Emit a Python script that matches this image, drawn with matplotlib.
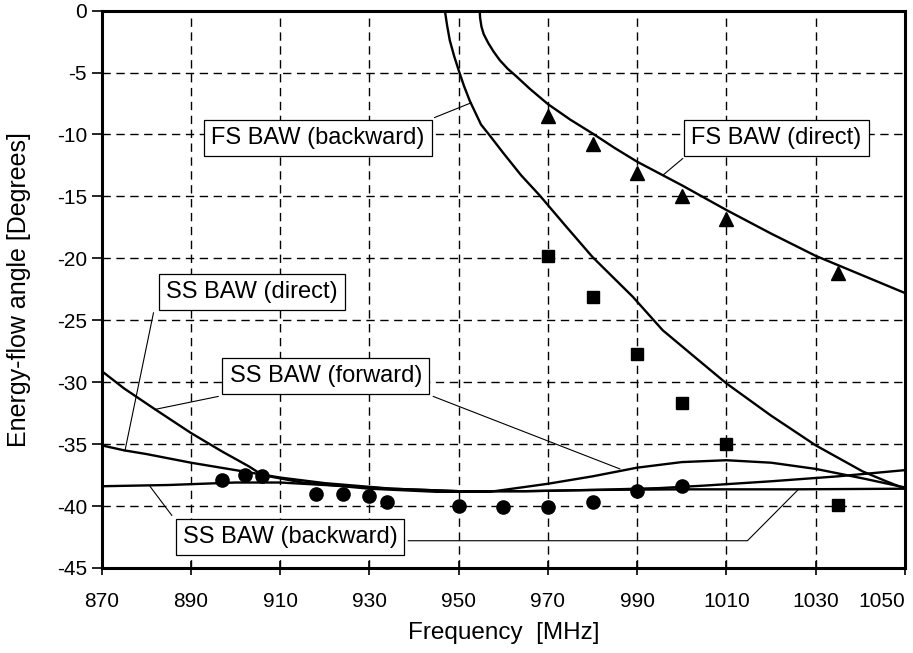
import matplotlib
matplotlib.use("Agg")
from matplotlib import pyplot as plt

plt.rcParams['font.family'] = ['Liberation Sans', 'DejaVu Sans']
plt.rcParams['axes.unicode_minus'] = False

# measured points
circ_f = [897, 902, 906, 918, 924, 930, 934, 950, 960, 970, 980, 990, 1000]
circ_a = [-37.9, -37.5, -37.6, -39.0, -39.05, -39.2, -39.7, -40.0, -40.05, -40.07, -39.7, -38.8, -38.4]

sq_f = [970, 980, 990, 1000, 1010, 1035]
sq_a = [-19.8, -23.1, -27.7, -31.7, -35.0, -39.9]

tri_f = [970, 980, 990, 1000, 1010, 1035]
tri_a = [-8.5, -10.8, -13.1, -15.0, -16.8, -21.15]

# calculated curves
fsd_f = [954.7, 954.8, 955.1, 955.6, 956.6, 957.8, 959.2, 961, 962.9, 965.9, 970, 975, 980, 985, 990, 1000, 1010, 1020, 1030, 1040, 1050]
fsd_a = [0, -0.6, -1.3, -1.9, -2.6, -3.3, -4.0, -4.7, -5.3, -6.3, -7.55, -8.8, -9.92, -11.1, -12.2, -14.1, -16.1, -18.0, -19.8, -21.3, -22.8]

fsb_f = [946.9, 947.4, 948.0, 949.0, 950.1, 951.2, 952.5, 955, 957, 960, 964, 968.1, 974, 980, 989, 995.7, 1003, 1010, 1020, 1030, 1040.5, 1045.8, 1050]
fsb_a = [0, -1.2, -2.4, -3.7, -4.93, -6.1, -7.3, -9.2, -10.1, -11.5, -13.3, -14.9, -17.4, -19.9, -23.1, -25.8, -28.0, -30.1, -32.7, -35.1, -37.2, -38.0, -38.6]

ssd_f = [870, 875, 880, 890, 900, 910, 920, 935, 950, 965, 980, 995, 1005, 1020, 1035, 1050]
ssd_a = [-35.1, -35.5, -35.8, -36.5, -37.1, -37.7, -38.15, -38.6, -38.8, -38.8, -38.7, -38.55, -38.35, -38.0, -37.6, -37.1]

ssf_f = [870, 875, 882, 890, 897, 903, 906, 915, 930, 945, 957, 970, 980, 990, 1000, 1010, 1020, 1030, 1041, 1050]
ssf_a = [-29.1, -30.5, -32.2, -34.1, -35.6, -36.8, -37.5, -38.1, -38.6, -38.85, -38.85, -38.2, -37.6, -36.9, -36.45, -36.3, -36.5, -37.0, -37.8, -38.5]

ssb_f = [870, 885, 900, 910, 920, 935, 950, 965, 980, 1000, 1025, 1050]
ssb_a = [-38.4, -38.3, -38.1, -38.1, -38.3, -38.6, -38.8, -38.8, -38.7, -38.65, -38.65, -38.6]

# labels: text, centre, leader lines
labels = ["FS BAW (backward)", "FS BAW (direct)", "SS BAW (direct)", "SS BAW (forward)", "SS BAW (backward)"]
label_xy = [(918.5, -10.3), (1021.2, -10.3), (903.6, -22.7), (920.2, -29.5), (912.2, -42.5)]
leaders = [
    [[(944.6, -8.63), (952.8, -7.44)]],
    [[(1000.2, -11.94), (995.7, -13.3)]],
    [[(881.6, -24.4), (875.2, -35.55)]],
    [[(896.1, -31.15), (881.9, -32.2)], [(944.3, -31.15), (986.1, -37.0)]],
    [[(885.7, -40.75), (880.8, -38.4)], [(938.7, -42.8), (1014.7, -42.8), (1026.0, -38.7)]],
]

fig = plt.figure(figsize=(9.13, 6.53), dpi=100)
ax = fig.add_axes([0.1114, 0.1302, 0.8798, 0.8535])

for f, a in [(fsd_f, fsd_a), (fsb_f, fsb_a), (ssd_f, ssd_a), (ssf_f, ssf_a), (ssb_f, ssb_a)]:
    ax.plot(f, a, color='black', lw=1.7, zorder=3)

ax.plot(circ_f, circ_a, 'o', color='black', ms=9.5, zorder=4)
ax.plot(sq_f, sq_a, 's', color='black', ms=9, zorder=4)
ax.plot(tri_f, tri_a, '^', color='black', ms=9.5, zorder=4)

for segs in leaders:
    for seg in segs:
        ax.plot([p[0] for p in seg], [p[1] for p in seg], color='black', lw=0.8, zorder=5)

for txt, (x, y) in zip(labels, label_xy):
    ax.text(x, y, txt, ha='center', va='center', fontsize=17, zorder=6,
            bbox=dict(boxstyle='square,pad=0.3', fc='white', ec='black', lw=0.9))

ax.set_xlim(870, 1050)
ax.set_ylim(-45, 0)
ax.set_xticks(range(870, 1051, 20))
ax.set_yticks(range(-45, 1, 5))
ax.grid(True, color='black', ls=(0, (6, 4)), lw=1.0)
ax.set_axisbelow(True)
for s in ax.spines.values():
    s.set_linewidth(2.2)
ax.tick_params(axis='x', direction='inout', length=10, width=1.2, labelsize=15, pad=12)
ax.tick_params(axis='y', direction='out', length=7, width=1.2, labelsize=15)
ax.get_xticklabels()[-1].set_horizontalalignment('right')

ax.set_xlabel("Frequency  [MHz]", fontsize=17.5, labelpad=8)
ax.set_ylabel("Energy-flow angle [Degrees]", fontsize=18)
ax.yaxis.set_label_coords(-0.088, 0.5)

plt.savefig("out.png", dpi=100)
